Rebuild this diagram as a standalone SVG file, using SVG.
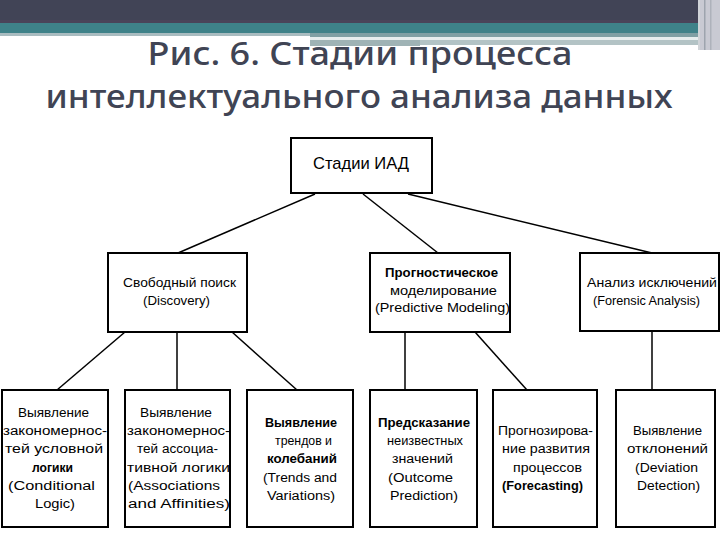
<svg xmlns="http://www.w3.org/2000/svg" width="720" height="540" viewBox="0 0 720 540">
<style>
.box{fill:#fff;stroke:#000;stroke-width:2}
.ln{stroke:#000;stroke-width:1.5;fill:none}
.t{font-family:"Liberation Sans",Arial,sans-serif;font-size:12.5px;fill:#000;text-anchor:middle}
.b{font-weight:bold}
.title{font-family:"Noto Sans","DejaVu Sans",sans-serif;font-size:33px;fill:#404454;text-anchor:middle;font-weight:500}
</style>
<rect width="720" height="540" fill="#fff"/>
<g id="decoration">
<rect x="0" y="0" width="720" height="21" fill="#414456"/>
<rect x="0" y="20" width="700" height="3" fill="#4a4459"/>
<rect x="0" y="23" width="700" height="10" fill="#3f8289"/>
<rect x="0" y="33" width="310" height="3" fill="#a9bcc0"/>
<rect x="310" y="33" width="390" height="4" fill="#7fa0a4"/>
<rect x="310" y="37" width="390" height="3" fill="#e6eeee"/>
<rect x="310" y="40" width="390" height="5" fill="#b3c3c5"/>
<rect x="310" y="40" width="110" height="6" fill="#9fb3b5"/>
<rect x="700" y="0" width="20" height="50" fill="#c9cad3"/>
<rect x="698" y="0" width="2" height="50" fill="#d0d4d8"/>
<rect x="704" y="0" width="1.5" height="50" fill="#9ea4ae"/>
<rect x="710" y="0" width="1.5" height="50" fill="#aeb2bb"/>
</g>
<g id="title">
<text class="title" x="360" y="65" textLength="425" lengthAdjust="spacingAndGlyphs">Рис. 6. Стадии процесса</text>
<text class="title" x="359" y="108" textLength="627" lengthAdjust="spacingAndGlyphs">интеллектуального анализа данных</text>
</g>
<g id="connectors">
<line class="ln" x1="315" y1="194" x2="178" y2="253"/>
<line class="ln" x1="363" y1="194" x2="438" y2="253"/>
<line class="ln" x1="408" y1="194" x2="652" y2="253"/>
<line class="ln" x1="125" y1="332" x2="57" y2="390"/>
<line class="ln" x1="177" y1="332" x2="177" y2="390"/>
<line class="ln" x1="232" y1="332" x2="297" y2="390"/>
<line class="ln" x1="405" y1="332" x2="405" y2="390"/>
<line class="ln" x1="475" y1="332" x2="527" y2="390"/>
<line class="ln" x1="652" y1="331" x2="652" y2="390"/>
</g>
<g id="node-root">
<rect class="box" x="291" y="138" width="141" height="55"/>
<text class="t" x="361" y="169" style="font-size:17px" textLength="96" lengthAdjust="spacingAndGlyphs">Стадии ИАД</text>
</g>
<g id="node-discovery">
<rect class="box" x="108" y="253" width="139" height="79"/>
<text class="t" x="179.5" y="287" textLength="113" lengthAdjust="spacingAndGlyphs">Свободный поиск</text>
<text class="t" x="176.5" y="305" textLength="67" lengthAdjust="spacingAndGlyphs">(Discovery)</text>
</g>
<g id="node-predictive">
<rect class="box" x="370" y="253" width="140" height="79"/>
<text class="t b" x="441.5" y="277" textLength="113" lengthAdjust="spacingAndGlyphs">Прогностическое</text>
<text class="t" x="443.5" y="295" textLength="107" lengthAdjust="spacingAndGlyphs">моделирование</text>
<text class="t" x="442.5" y="312" textLength="135" lengthAdjust="spacingAndGlyphs">(Predictive Modeling)</text>
</g>
<g id="node-forensic">
<rect class="box" x="580" y="253" width="139" height="78"/>
<text class="t" x="652" y="287" textLength="130" lengthAdjust="spacingAndGlyphs">Анализ исключений</text>
<text class="t" x="646.5" y="305" textLength="107" lengthAdjust="spacingAndGlyphs">(Forensic Analysis)</text>
</g>
<g id="node-conditional">
<rect class="box" x="2" y="390" width="106" height="137"/>
<text class="t" x="53.5" y="417" textLength="71" lengthAdjust="spacingAndGlyphs">Выявление</text>
<text class="t" x="55" y="435" textLength="104" lengthAdjust="spacingAndGlyphs">закономернос-</text>
<text class="t" x="54" y="453" textLength="98" lengthAdjust="spacingAndGlyphs">тей условной</text>
<text class="t b" x="52.5" y="472" textLength="41" lengthAdjust="spacingAndGlyphs">логики</text>
<text class="t" x="51.5" y="490" textLength="87" lengthAdjust="spacingAndGlyphs">(Conditional</text>
<text class="t" x="55" y="508" textLength="40" lengthAdjust="spacingAndGlyphs">Logic)</text>
</g>
<g id="node-associations">
<rect class="box" x="125" y="390" width="105" height="137"/>
<text class="t" x="176" y="417" textLength="72" lengthAdjust="spacingAndGlyphs">Выявление</text>
<text class="t" x="178.5" y="435" textLength="103" lengthAdjust="spacingAndGlyphs">закономернос-</text>
<text class="t" x="177.5" y="453" textLength="81" lengthAdjust="spacingAndGlyphs">тей ассоциа-</text>
<text class="t" x="178.5" y="472" textLength="103" lengthAdjust="spacingAndGlyphs">тивной логики</text>
<text class="t" x="174" y="490" textLength="92" lengthAdjust="spacingAndGlyphs">(Associations</text>
<text class="t" x="179" y="508" textLength="102" lengthAdjust="spacingAndGlyphs">and Affinities)</text>
</g>
<g id="node-trends">
<rect class="box" x="247" y="390" width="106" height="137"/>
<text class="t b" x="301" y="427" textLength="72" lengthAdjust="spacingAndGlyphs">Выявление</text>
<text class="t" x="303.5" y="445" textLength="57" lengthAdjust="spacingAndGlyphs">трендов и</text>
<text class="t b" x="302" y="463" textLength="70" lengthAdjust="spacingAndGlyphs">колебаний</text>
<text class="t" x="300" y="482" textLength="74" lengthAdjust="spacingAndGlyphs">(Trends and</text>
<text class="t" x="301" y="500" textLength="68" lengthAdjust="spacingAndGlyphs">Variations)</text>
</g>
<g id="node-outcome">
<rect class="box" x="370" y="390" width="107" height="137"/>
<text class="t b" x="424" y="427" textLength="92" lengthAdjust="spacingAndGlyphs">Предсказание</text>
<text class="t" x="425" y="445" textLength="76" lengthAdjust="spacingAndGlyphs">неизвестных</text>
<text class="t" x="422.5" y="463" textLength="61" lengthAdjust="spacingAndGlyphs">значений</text>
<text class="t" x="420.5" y="482" textLength="65" lengthAdjust="spacingAndGlyphs">(Outcome</text>
<text class="t" x="424" y="500" textLength="68" lengthAdjust="spacingAndGlyphs">Prediction)</text>
</g>
<g id="node-forecasting">
<rect class="box" x="493" y="390" width="104" height="137"/>
<text class="t" x="545.5" y="435" textLength="95" lengthAdjust="spacingAndGlyphs">Прогнозирова-</text>
<text class="t" x="546" y="453" textLength="88" lengthAdjust="spacingAndGlyphs">ние развития</text>
<text class="t" x="547.5" y="472" textLength="69" lengthAdjust="spacingAndGlyphs">процессов</text>
<text class="t b" x="542.5" y="490" textLength="81" lengthAdjust="spacingAndGlyphs">(Forecasting)</text>
</g>
<g id="node-deviation">
<rect class="box" x="616" y="390" width="99" height="137"/>
<text class="t" x="667.5" y="435" textLength="69" lengthAdjust="spacingAndGlyphs">Выявление</text>
<text class="t" x="667.5" y="453" textLength="81" lengthAdjust="spacingAndGlyphs">отклонений</text>
<text class="t" x="666.5" y="472" textLength="63" lengthAdjust="spacingAndGlyphs">(Deviation</text>
<text class="t" x="668.5" y="490" textLength="63" lengthAdjust="spacingAndGlyphs">Detection)</text>
</g>
</svg>
